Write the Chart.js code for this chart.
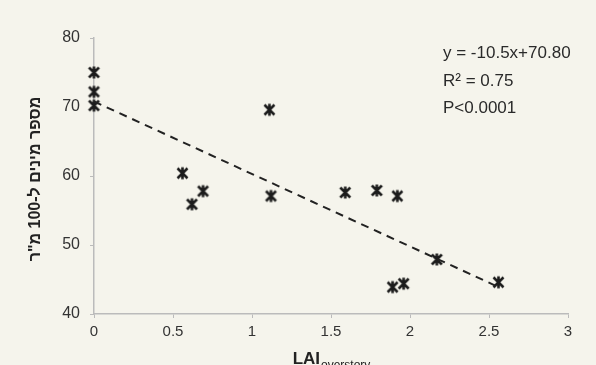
<!DOCTYPE html>
<html lang="he">
<head>
    <meta charset="UTF-8">
    <title>LAI scatter</title>
    <script src="https://cdn.jsdelivr.net/npm/chart.js"></script>
    <style>
        html, body { margin: 0; padding: 0; background: #f5f4ec; }
        #wrap { width: 596px; height: 365px; }
    </style>
</head>
<body>
    <div id="wrap"><canvas id="chart" width="596" height="365"></canvas></div>

    <script>
        // measured points
        const laiValues = [0, 0, 0, 0.56, 0.62, 0.69, 1.11, 1.12, 1.59, 1.79, 1.92, 1.89, 1.96, 2.17, 2.56];
        const speciesCounts = [75.0, 72.2, 70.2, 60.4, 55.9, 57.8, 69.6, 57.1, 57.6, 57.9, 57.1, 43.9, 44.4, 47.9, 44.6];

        // regression y = -10.5x + 70.80
        const trendX = [0, 2.57];
        const trendY = [70.8, 43.8];

        const xTicks = [0, 0.5, 1, 1.5, 2, 2.5, 3];
        const yTicks = [40, 50, 60, 70, 80];
        const statLines = ['y = -10.5x+70.80', 'R² = 0.75', 'P<0.0001'];

        const FONT = '"Liberation Sans", "DejaVu Sans", sans-serif';

        // star marker (X with vertical stroke)
        function makeStar() {
            const c = document.createElement('canvas');
            c.width = 15; c.height = 15;
            const g = c.getContext('2d');
            g.strokeStyle = '#1c1c1c';
            g.lineWidth = 2.6;
            g.beginPath();
            g.moveTo(2.5, 2.5); g.lineTo(12.5, 12.5);
            g.moveTo(12.5, 2.5); g.lineTo(2.5, 12.5);
            g.moveTo(7.5, 1.5); g.lineTo(7.5, 13.5);
            g.stroke();
            return c;
        }

        const titlesPlugin = {
            id: 'titles',
            afterDraw(chart) {
                const ctx = chart.ctx;
                const area = chart.chartArea;
                ctx.save();
                ctx.fillStyle = '#222';

                // y axis title
                ctx.save();
                ctx.translate(36, (area.top + area.bottom) / 2 + 3);
                ctx.rotate(-Math.PI / 2);
                ctx.font = 'bold 16px ' + FONT;
                ctx.direction = 'rtl';
                ctx.textAlign = 'center';
                ctx.textBaseline = 'middle';
                ctx.fillText('מספר מינים ל-100 מ"ר', 0, 0);
                ctx.restore();

                // x axis title with subscript
                ctx.direction = 'ltr';
                ctx.textBaseline = 'alphabetic';
                ctx.textAlign = 'left';
                ctx.font = 'bold 17px ' + FONT;
                const mainW = ctx.measureText('LAI').width;
                ctx.font = '12px ' + FONT;
                const subW = ctx.measureText('overstory').width;
                let x0 = (area.left + area.right) / 2 - (mainW + subW) / 2;
                ctx.font = 'bold 17px ' + FONT;
                ctx.fillText('LAI', x0, 364);
                ctx.font = '12px ' + FONT;
                ctx.fillText('overstory', x0 + mainW + 1, 369);

                // regression stats
                ctx.font = '17px ' + FONT;
                ctx.fillStyle = '#2a2a2a';
                statLines.forEach((t, i) => ctx.fillText(t, 443, 58 + i * 27.5));
                ctx.restore();
            }
        };

        new Chart(document.getElementById('chart'), {
            type: 'scatter',
            data: {
                datasets: [
                    {
                        label: 'trend',
                        type: 'line',
                        data: trendX.map((x, i) => ({ x: x, y: trendY[i] })),
                        borderColor: '#222',
                        borderWidth: 2,
                        borderDash: [8, 6],
                        pointRadius: 0,
                        fill: false
                    },
                    {
                        label: 'species',
                        data: laiValues.map((x, i) => ({ x: x, y: speciesCounts[i] })),
                        pointStyle: makeStar(),
                        pointRadius: 7,
                        clip: false
                    }
                ]
            },
            plugins: [titlesPlugin],
            options: {
                responsive: false,
                animation: false,
                layout: { padding: { top: 38, right: 28, left: 0, bottom: 0 } },
                plugins: { legend: { display: false }, tooltip: { enabled: false } },
                scales: {
                    x: {
                        type: 'linear',
                        min: 0, max: 3,
                        afterBuildTicks: s => { s.ticks = xTicks.map(v => ({ value: v })); },
                        afterFit: s => { s.height = 51; },
                        grid: { drawOnChartArea: false, color: '#bbb', tickLength: 4 },
                        border: { color: '#bbb', width: 1.5 },
                        ticks: {
                            color: '#333', font: { family: FONT, size: 15 }, padding: 5, maxRotation: 0,
                            callback: v => String(v)
                        }
                    },
                    y: {
                        min: 40, max: 80,
                        afterBuildTicks: s => { s.ticks = yTicks.map(v => ({ value: v })); },
                        afterFit: s => { s.width = 94; },
                        grid: { drawOnChartArea: false, color: '#bbb', tickLength: 4 },
                        border: { color: '#bbb', width: 1.5 },
                        ticks: { color: '#333', font: { family: FONT, size: 16 }, padding: 10 }
                    }
                }
            }
        });
    </script>
</body>
</html>
